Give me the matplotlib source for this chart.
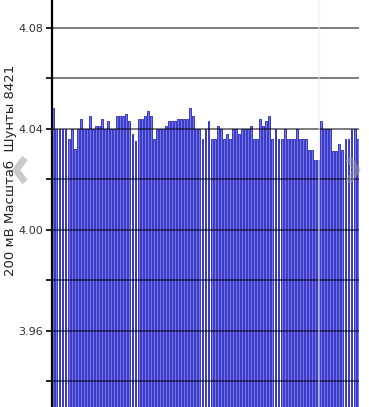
"""
shunt voltage bar chart, 200 mV scale
"""

import matplotlib
matplotlib.use('Agg')
from matplotlib import pyplot as plt
from matplotlib.lines import Line2D


# bar heights, volts, left to right
values_a = [4.048, 4.040, 4.040, 4.040, 4.040, 4.036, 4.040, 4.032, 4.040, 4.044,
            4.040, 4.040, 4.045, 4.040, 4.041, 4.041, 4.044, 4.040, 4.043, 4.040,
            4.040, 4.045, 4.045, 4.045, 4.046, 4.043, 4.038, 4.035, 4.044, 4.044,
            4.045, 4.047, 4.045, 4.036, 4.040, 4.040, 4.040, 4.041, 4.043]
values_b = [4.043, 4.043, 4.044, 4.044, 4.044, 4.044, 4.048, 4.045, 4.040, 4.040,
            4.036, 4.040, 4.043, 4.036, 4.036, 4.041, 4.040, 4.036, 4.038, 4.036,
            4.040, 4.040, 4.038, 4.040, 4.040, 4.040, 4.041, 4.036, 4.036, 4.044,
            4.041, 4.043, 4.045]
values_c = [4.036, 4.040, 4.036, 4.036, 4.040, 4.036, 4.036, 4.036, 4.040, 4.036,
            4.036, 4.036, 4.0316, 4.0316, 4.0277, 4.0277, 4.043, 4.040, 4.040, 4.040,
            4.031, 4.031, 4.034, 4.0316, 4.036, 4.036, 4.040, 4.040, 4.036]
values = values_a + values_b + values_c

major_ticks = [3.96, 4.00, 4.04, 4.08]
minor_ticks = [3.94, 3.98, 4.02, 4.06]
ylabel = '200 мВ Масштаб  Шунты 8421'


fig = plt.figure(figsize=(3.69, 4.07), dpi=100)
ax = fig.add_axes([52/369, 0, 307/369, 1])

x = list(range(len(values)))
ax.bar(x, values, width=0.62, color='#7676ec', edgecolor='#3838c4', linewidth=0.7, zorder=2)

ax.set_xlim(-0.45, len(values) - 0.55)
ax.set_ylim(3.9297, 4.091)

ax.set_yticks(major_ticks)
ax.set_yticklabels(['%.2f' % v for v in major_ticks], fontsize=8, color='#333333')
ax.set_yticks(minor_ticks, minor=True)
ax.tick_params(axis='y', which='both', direction='out', length=4, width=1.2,
               color='black', pad=2.5)
ax.tick_params(axis='x', bottom=False, labelbottom=False)

for v in major_ticks + minor_ticks:
    ax.axhline(v, color='black', alpha=0.65, linewidth=1.1, zorder=3)

for side in ['top', 'right', 'bottom']:
    ax.spines[side].set_visible(False)
ax.spines['left'].set_linewidth(1.6)
ax.spines['left'].set_zorder(4)

fig.text(10/369, 1 - 170/407, ylabel, rotation=90, ha='center', va='center',
         fontsize=9.5, color='#222222')

# faint screen overlays
fig.add_artist(Line2D([319/369, 319/369], [0, 1], color='#eeeeee', alpha=0.5, linewidth=1.5))
fig.add_artist(Line2D([25/369, 16/369, 25/369], [1 - 158/407, 1 - 170/407, 1 - 182/407],
                      color='#999999', alpha=0.5, linewidth=5, solid_capstyle='butt'))
fig.add_artist(Line2D([348/369, 357/369, 348/369], [1 - 158/407, 1 - 170/407, 1 - 182/407],
                      color='#999999', alpha=0.5, linewidth=5, solid_capstyle='butt'))

plt.savefig('out.png', dpi=100)
